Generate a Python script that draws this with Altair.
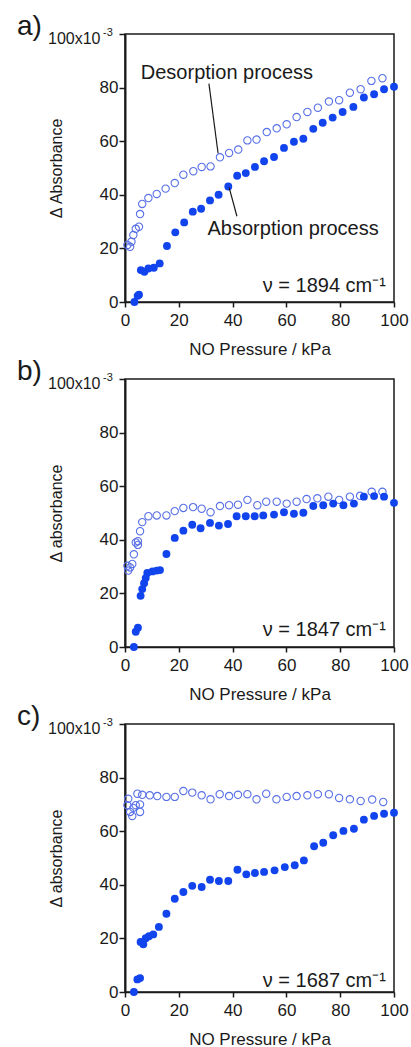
import altair as alt
import pandas as pd

# NO pressure (kPa) and change in absorbance (x10^-3) for three IR bands
A_ABS_X = [3.5, 4.7, 5.2, 5.9, 7.2, 8.7, 10.7, 12.9, 15.6, 18.7, 22.0, 25.2, 28.3, 31.6, 34.8, 38.4, 41.7,
           44.9, 48.3, 51.7, 55.4, 59.1, 62.8, 66.3, 70.0, 73.5, 77.2, 80.9, 84.9, 88.8, 92.6, 96.3, 100]
A_ABS_Y = [0, 2.3, 2.7, 11.9, 11.3, 12.5, 12.8, 14.4, 20.9, 26.0, 29.7, 33.7, 34.8, 37.9, 40.0, 43.1, 47.1,
           48.1, 50.4, 52.5, 54.1, 57.5, 59.8, 60.9, 64.6, 66.9, 68.8, 70.9, 72.8, 76.3, 77.5, 79.4, 80.3]
A_DES_X = [0.9, 1.9, 2.4, 3.1, 4.0, 5.2, 5.6, 6.4, 8.7, 11.8, 15.1, 18.5, 21.7, 25.4, 28.5, 31.8, 35.3,
           38.7, 42.1, 45.5, 48.9, 52.7, 56.4, 60.1, 63.8, 67.8, 71.7, 75.8, 79.6, 83.6, 87.6, 91.6, 95.7]
A_DES_Y = [21.3, 20.6, 22.5, 25.0, 27.3, 28.1, 32.8, 36.6, 38.8, 40.3, 42.3, 44.4, 47.5, 48.8, 50.4, 50.6, 54.0,
           55.6, 56.9, 60.3, 60.6, 63.4, 64.8, 66.3, 69.0, 70.9, 72.5, 74.8, 75.3, 78.1, 79.4, 82.5, 83.5]

B_ABS_X = [3.3, 4.0, 4.8, 5.8, 6.4, 7.1, 7.7, 8.3, 10.2, 11.8, 13.0, 15.4, 18.5, 21.7, 25.0, 28.1, 31.6, 34.9,
           38.3, 41.5, 44.9, 48.2, 51.4, 55.4, 59.1, 62.8, 66.3, 70.0, 73.7, 77.4, 81.2, 85.1, 88.8, 92.6, 96.3, 100]
B_ABS_Y = [0, 5.7, 7.2, 19.1, 21.6, 23.8, 25.7, 27.6, 28.2, 28.5, 28.7, 34.7, 40.7, 43.4, 45.6, 44.3, 46.3, 45.3,
           45.9, 48.8, 48.8, 48.8, 49.1, 49.4, 50.3, 49.7, 50.1, 52.6, 52.9, 53.5, 52.9, 53.5, 56.1, 56.3, 56.1, 53.8]
B_DES_X = [0.9, 1.2, 1.9, 2.7, 3.3, 4.0, 4.8, 4.8, 5.6, 6.4, 8.7, 11.8, 15.4, 18.5, 21.7, 25.3, 28.5, 31.8,
           35.3, 38.7, 42.0, 45.5, 49.2, 52.5, 56.4, 60.1, 63.8, 67.5, 71.5, 75.6, 79.6, 83.6, 87.4, 91.7, 95.7]
B_DES_Y = [30.3, 28.5, 29.7, 31.0, 34.6, 39.0, 38.1, 39.5, 43.2, 46.6, 48.8, 49.1, 49.1, 50.7, 51.9, 52.2, 51.6, 50.3,
           52.6, 52.9, 53.1, 54.9, 52.9, 54.2, 54.2, 53.5, 54.2, 55.2, 55.5, 56.1, 54.9, 56.1, 56.4, 57.9, 57.9]

C_ABS_X = [3.3, 4.6, 5.6, 5.8, 6.8, 7.7, 8.9, 10.5, 12.6, 15.4, 18.5, 21.7, 25.0, 28.5, 31.6, 34.9, 38.4,
           41.8, 45.1, 48.3, 51.7, 55.6, 59.4, 63.1, 66.5, 70.3, 73.7, 77.4, 81.2, 85.1, 88.8, 92.6, 96.3, 100]
C_ABS_Y = [0, 4.7, 5.2, 18.7, 17.8, 20.1, 20.8, 21.5, 24.3, 29.2, 34.8, 37.3, 39.6, 39.2, 41.9, 41.4, 41.4,
           45.6, 43.9, 44.4, 44.8, 45.4, 46.6, 47.3, 49.1, 54.4, 55.7, 58.5, 60.1, 60.9, 64.3, 65.7, 66.5, 66.9]
C_DES_X = [0.9, 1.2, 1.9, 2.7, 3.1, 4.0, 4.6, 5.6, 5.6, 6.4, 9.2, 12.0, 15.4, 18.5, 21.7, 25.0, 28.5, 31.8,
           35.2, 38.7, 42.0, 45.5, 48.9, 52.5, 56.3, 60.1, 63.8, 67.8, 71.7, 75.8, 79.6, 83.6, 87.6, 91.9, 96.0]
C_DES_Y = [69.7, 72.1, 67.2, 65.7, 68.7, 69.7, 74.0, 70.0, 67.2, 73.6, 73.4, 73.1, 72.8, 72.8, 75.0, 74.4, 73.4, 71.9,
           73.8, 73.1, 73.6, 73.8, 71.9, 74.0, 71.9, 72.8, 73.1, 73.4, 73.8, 73.8, 72.4, 71.9, 71.3, 71.8, 70.9]

TICKS = [0, 20, 40, 60, 80, 100]

# callout labels in panel a, with their leader lines (data coordinates)
NOTE_TEXT = ["Desorption process", "Absorption process"]
NOTE_X = [37.9, 62.5]
NOTE_Y = [83.2, 25.1]
LEADER_X1 = [31.2, 38.7]
LEADER_Y1 = [81.5, 42.8]
LEADER_X2 = [34.6, 41.6]
LEADER_Y2 = [55.5, 32.0]

BLUE = "#1244ee"
LIGHT = "#5870e6"
INK = "#1a1a1a"
FONT = "Liberation Sans"


def panel(letter, ytitle, nu_text, nu_y, abs_x, abs_y, des_x, des_y, notes=False):
    xaxis = alt.Axis(values=TICKS, title="NO Pressure / kPa", grid=False,
                     domainColor=INK, domainWidth=1.5, tickColor=INK, tickWidth=1.5, tickSize=5,
                     labelFont=FONT, labelFontSize=17, labelColor=INK, labelPadding=5,
                     labelFlush=False, labelOverlap=False,
                     titleFont=FONT, titleFontSize=17, titleFontWeight="normal", titleColor=INK,
                     titleY=47, titleBaseline="middle")
    yaxis = alt.Axis(values=TICKS, title=ytitle, grid=False,
                     labelExpr="datum.value == 100 ? '' : datum.label",
                     domainColor=INK, domainWidth=2, tickColor=INK, tickWidth=1.5, tickSize=6,
                     labelFont=FONT, labelFontSize=17, labelColor=INK, labelPadding=1,
                     labelFlush=False, labelOverlap=False,
                     titleFont=FONT, titleFontSize=16, titleFontWeight="normal", titleColor=INK,
                     titleX=-69, titleY=134, titleBaseline="middle")
    X = alt.X("p:Q", scale=alt.Scale(domain=[0, 100], nice=False, zero=False), axis=xaxis)
    Y = alt.Y("a:Q", scale=alt.Scale(domain=[0, 100], nice=False, zero=False), axis=yaxis)

    des = alt.Chart(pd.DataFrame({"p": des_x, "a": des_y})).mark_point(
        shape="circle", filled=False, size=54, strokeWidth=1.1, color=LIGHT, opacity=1
    ).encode(x=X, y=Y)
    ads = alt.Chart(pd.DataFrame({"p": abs_x, "a": abs_y})).mark_circle(
        size=62, color=BLUE, opacity=1
    ).encode(x=X, y=Y)
    nu = alt.Chart(pd.DataFrame({"p": [97.0], "a": [nu_y], "t": [nu_text]})).mark_text(
        align="right", baseline="alphabetic", fontSize=20, font=FONT, color=INK
    ).encode(x=X, y=Y, text="t:N")

    tag = alt.Chart(pd.DataFrame({"t": [letter]})).mark_text(
        align="left", baseline="alphabetic", fontSize=28, font=FONT, color=INK
    ).encode(x=alt.value(-108), y=alt.value(1), text="t:N")
    top = alt.Chart(pd.DataFrame({"t": ["100x10"]})).mark_text(
        align="left", baseline="alphabetic", fontSize=16, font=FONT, color=INK
    ).encode(x=alt.value(-77), y=alt.value(10), text="t:N")
    exp = alt.Chart(pd.DataFrame({"t": ["-3"]})).mark_text(
        align="left", baseline="alphabetic", fontSize=11, font=FONT, color=INK
    ).encode(x=alt.value(-22), y=alt.value(2), text="t:N")

    layers = [des, ads, nu, tag, top, exp]
    if notes:
        leaders = alt.Chart(pd.DataFrame({"p": LEADER_X1, "a": LEADER_Y1,
                                          "p2": LEADER_X2, "a2": LEADER_Y2})).mark_rule(
            color=INK, strokeWidth=1.2
        ).encode(x=X, y=Y, x2="p2:Q", y2="a2:Q")
        labels = alt.Chart(pd.DataFrame({"p": NOTE_X, "a": NOTE_Y, "t": NOTE_TEXT})).mark_text(
            align="center", baseline="alphabetic", fontSize=20, font=FONT, color=INK
        ).encode(x=X, y=Y, text="t:N")
        layers += [leaders, labels]
    return alt.layer(*layers).properties(width=269, height=268)


pa = panel("a)", "Δ Absorbance", "ν = 1894 cm⁻¹", 3.75, A_ABS_X, A_ABS_Y, A_DES_X, A_DES_Y, notes=True)
pb = panel("b)", "Δ absorbance", "ν = 1847 cm⁻¹", 4.1, B_ABS_X, B_ABS_Y, B_DES_X, B_DES_Y)
pc = panel("c)", "Δ absorbance", "ν = 1687 cm⁻¹", 1.9, C_ABS_X, C_ABS_Y, C_DES_X, C_DES_Y)

chart = alt.vconcat(pa, pb, pc, spacing=77, bounds="flush").properties(
    padding={"left": 16, "top": 12, "right": 0, "bottom": 0},
    background="white",
).configure_view(stroke=INK, strokeWidth=1.5)

chart.save("out.html", embed_options={"renderer": "svg", "actions": False})
